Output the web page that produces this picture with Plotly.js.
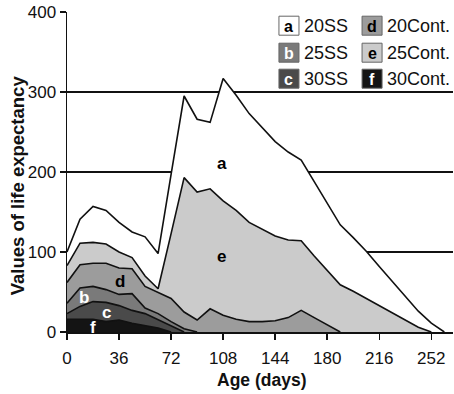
<!DOCTYPE html>
<html>
<head>
<meta charset="utf-8">
<script src="https://cdn.plot.ly/plotly-3.0.1.min.js"></script>
<style>html,body{margin:0;padding:0;background:#fff;}#chart{width:454px;height:394px;}</style>
</head>
<body>
<div id="chart"></div>
<script>
// Age (days)
const days = [0, 9, 18, 27, 36, 45, 54, 63, 72, 81, 90, 99, 108, 117, 126, 135, 144, 153, 162, 171, 180, 189, 198, 207, 216, 225, 234, 243, 252, 261];
// a: 20SS
const ss20 = [100, 141, 157, 152, 137, 125, 119, 98, 197, 295, 266, 262, 317, 296, 273, 256, 238, 225, 215, 188, 161, 134, 118, 101, 82, 63, 44, 26, 11, 0];
// e: 25Cont.
const cont25 = [83, 111, 112, 110, 100, 93, 70, 54, 123, 193, 175, 179, 164, 152, 137, 128, 120, 115, 114, 95, 77, 59, 51, 42, 33, 24, 16, 6, 0];
// d: 20Cont.
const cont20 = [62, 84, 86, 86, 80, 79, 57, 49, 42, 25, 15, 29, 21, 16, 13, 13, 14, 18, 27, 18, 9, 0];
// b: 25SS
const ss25 = [36, 55, 57, 53, 47, 48, 30, 23, 13, 4, 0];
// c: 30SS
const ss30 = [23, 32, 38, 37, 33, 27, 23, 15, 7, 0];
// f: 30Cont.
const cont30 = [16, 16, 16, 13, 15, 11, 8, 5, 0];

const letters = ['a', 'b', 'c', 'd', 'e', 'f'];
const names = ['20SS', '25SS', '30SS', '20Cont.', '25Cont.', '30Cont.'];
const xTicks = [0, 36, 72, 108, 144, 180, 216, 252];
const yTicks = [0, 100, 200, 300, 400];

const colors = {a: '#ffffff', b: '#7a7a7a', c: '#4a4a4a', d: '#9c9c9c', e: '#cbcbcb', f: '#141414'};
const letterColors = {a: '#000', b: '#fff', c: '#fff', d: '#000', e: '#000', f: '#fff'};

const series = [
  {k: 'a', v: ss20}, {k: 'e', v: cont25}, {k: 'd', v: cont20},
  {k: 'b', v: ss25}, {k: 'c', v: ss30}, {k: 'f', v: cont30}
];
const traces = series.map(s => ({
  x: days.slice(0, s.v.length), y: s.v, type: 'scatter', mode: 'lines',
  fill: 'tozeroy', fillcolor: colors[s.k],
  line: {color: '#111', width: 1.6}, showlegend: false, hoverinfo: 'skip'
}));

const FONT = 'Liberation Sans, Arial, sans-serif';
// pixel -> data helpers for the legend layout
const L = 67.3, B = 332.3, PX = 1.444, PY = 0.8;
const dx = p => (p - L) / PX;
const dy = p => (B - p) / PY;

const shapes = [];
const annotations = [];
const rowsY = [26, 53, 79];
const colsX = [279, 362];
const order = [['a', 'b', 'c'], ['d', 'e', 'f']];
order.forEach((col, ci) => {
  col.forEach((k, ri) => {
    const x0 = colsX[ci], y0 = rowsY[ri] - 9.5;
    shapes.push({type: 'rect', xref: 'x', yref: 'y', x0: dx(x0), x1: dx(x0 + 20), y0: dy(y0), y1: dy(y0 + 19),
      fillcolor: colors[k], line: {color: '#666', width: 1}, layer: 'above'});
    annotations.push({xref: 'x', yref: 'y', x: dx(x0 + 10), y: dy(rowsY[ri] + 0.5), text: '<b>' + k + '</b>', showarrow: false,
      font: {family: FONT, size: 16, color: letterColors[k]}, xanchor: 'center', yanchor: 'middle'});
    annotations.push({xref: 'x', yref: 'y', x: dx(x0 + 23), y: dy(rowsY[ri] + 0.5), text: names[letters.indexOf(k)], showarrow: false,
      font: {family: FONT, size: 18, color: '#111'}, xanchor: 'left', yanchor: 'middle'});
  });
});

// in-plot letters
const inLabels = [
  {t: 'a', x: 107, y: 211, c: '#000'}, {t: 'e', x: 107, y: 94, c: '#000'},
  {t: 'd', x: 37, y: 63, c: '#000'}, {t: 'b', x: 12, y: 43, c: '#fff'},
  {t: 'c', x: 27, y: 25, c: '#fff'}, {t: 'f', x: 18, y: 6, c: '#fff'}
];
inLabels.forEach(l => annotations.push({xref: 'x', yref: 'y', x: l.x, y: l.y, text: '<b>' + l.t + '</b>', showarrow: false,
  font: {family: FONT, size: 17, color: l.c}, xanchor: 'center', yanchor: 'middle'}));

annotations.push({xref: 'paper', yref: 'paper', x: 0.503, y: -0.15, text: '<b>Age (days)</b>', showarrow: false,
  font: {family: FONT, size: 17.5, color: '#111'}, xanchor: 'center', yanchor: 'middle'});
annotations.push({xref: 'paper', yref: 'paper', x: (18 - L) / 385.6, y: (B - 186) / 320, text: '<b>Values of life expectancy</b>', showarrow: false,
  textangle: -90, font: {family: FONT, size: 18.5, color: '#111'}, xanchor: 'center', yanchor: 'middle'});

const layout = {
  width: 454, height: 394,
  margin: {l: 67, r: 1, t: 12, b: 62},
  paper_bgcolor: '#fff', plot_bgcolor: '#fff',
  font: {family: FONT, size: 17, color: '#111'},
  xaxis: {range: [0, 267], tickvals: xTicks, ticks: 'outside', ticklen: 6, tickwidth: 1.5, tickcolor: '#111',
    ticklabelstandoff: 4,
    showline: true, linecolor: '#111', linewidth: 1.5, showgrid: false, zeroline: false,
    tickfont: {family: FONT, size: 17, color: '#111'}},
  yaxis: {range: [0, 400], tickvals: yTicks, ticks: 'outside', ticklen: 6, tickwidth: 1.5, tickcolor: '#111',
    showline: true, linecolor: '#111', linewidth: 1.5, showgrid: true, gridcolor: '#111', gridwidth: 1.5, zeroline: false,
    tickfont: {family: FONT, size: 17, color: '#111'}},
  shapes: shapes, annotations: annotations, showlegend: false
};

Plotly.newPlot('chart', traces, layout, {staticPlot: true, displayModeBar: false});
</script>
</body>
</html>
